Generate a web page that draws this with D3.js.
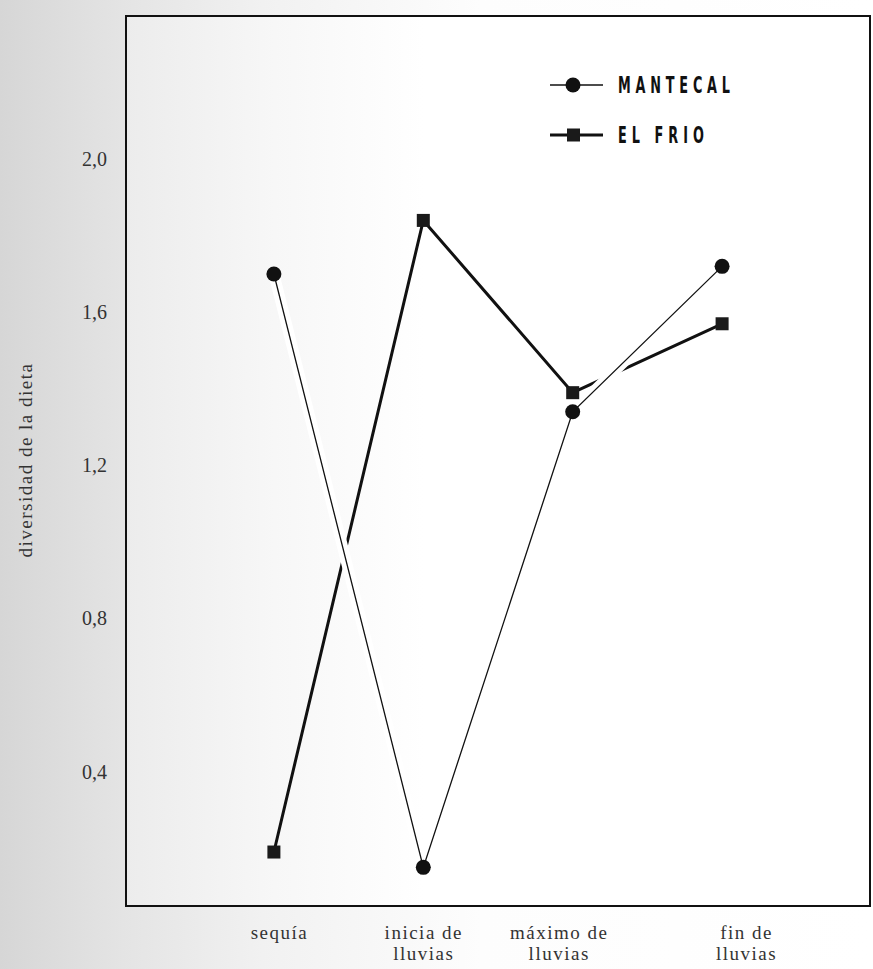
<!DOCTYPE html>
<html>
<head>
<meta charset="utf-8">
<script src="https://cdn.jsdelivr.net/npm/d3@7"></script>
<style>
  body { margin: 0; background: #e9e9e9; }
  svg { display: block; }
</style>
</head>
<body>
<svg id="chart"></svg>
<script>
// categories and values
const categories = ["sequía", "inicia de lluvias", "máximo de lluvias", "fin de lluvias"];
const categoryLines = [["sequía"], ["inicia de", "lluvias"], ["máximo de", "lluvias"], ["fin de", "lluvias"]];
const mantecal = [1.70, 0.15, 1.34, 1.72];
const elFrio = [0.19, 1.84, 1.39, 1.57];
const yTicks = [0.4, 0.8, 1.2, 1.6, 2.0];
const seriesNames = ["MANTECAL", "EL FRIO"];

const width = 873, height = 969;
const frame = { left: 126, right: 870, top: 16, bottom: 906 };
const labelShift = [5, 0, -14, 24];

const svg = d3.select("#chart").attr("width", width).attr("height", height);

// scanned-page look: grey on the left fading to white
const defs = svg.append("defs");
const bg = defs.append("linearGradient").attr("id", "bg");
bg.append("stop").attr("offset", "0%").attr("stop-color", "#d6d6d6");
bg.append("stop").attr("offset", "14%").attr("stop-color", "#e4e4e4");
bg.append("stop").attr("offset", "30%").attr("stop-color", "#f1f1f1");
bg.append("stop").attr("offset", "55%").attr("stop-color", "#fdfdfd");
bg.append("stop").attr("offset", "100%").attr("stop-color", "#ffffff");
const inner = defs.append("linearGradient").attr("id", "inner");
inner.append("stop").attr("offset", "0%").attr("stop-color", "#ececec");
inner.append("stop").attr("offset", "20%").attr("stop-color", "#f7f7f7");
inner.append("stop").attr("offset", "40%").attr("stop-color", "#ffffff");

svg.append("rect").attr("width", width).attr("height", height).attr("fill", "url(#bg)");
svg.append("rect")
  .attr("x", frame.left).attr("y", frame.top)
  .attr("width", frame.right - frame.left).attr("height", frame.bottom - frame.top)
  .attr("fill", "url(#inner)");

const x = d3.scalePoint().domain(categories).range([frame.left, frame.right]).padding(0.99);
const y = d3.scaleLinear().domain([0.049, 2.374]).range([frame.bottom, frame.top]);

// frame
svg.append("rect")
  .attr("x", frame.left).attr("y", frame.top)
  .attr("width", frame.right - frame.left).attr("height", frame.bottom - frame.top)
  .attr("fill", "none").attr("stroke", "#111").attr("stroke-width", 2);

// y axis labels
const yAxis = svg.append("g")
  .attr("transform", `translate(${frame.left},0)`)
  .call(d3.axisLeft(y).tickValues(yTicks).tickSize(0).tickPadding(19)
    .tickFormat(d => d3.format(".1f")(d).replace(".", ",")));
yAxis.select(".domain").remove();
yAxis.selectAll("text")
  .attr("font-family", "'Liberation Serif', 'DejaVu Serif', serif")
  .attr("font-size", 20).attr("fill", "#333");

// x axis labels, two lines
const xAxis = svg.append("g")
  .attr("transform", `translate(0,${frame.bottom})`)
  .call(d3.axisBottom(x).tickSize(0).tickFormat(""));
xAxis.select(".domain").remove();
xAxis.selectAll(".tick text")
  .attr("y", 0).attr("dy", null)
  .attr("font-family", "'Liberation Serif', 'DejaVu Serif', serif")
  .attr("font-size", 19).attr("fill", "#333")
  .attr("letter-spacing", 1.5)
  .each(function(d, i) {
    const t = d3.select(this).attr("x", labelShift[i]);
    categoryLines[i].forEach((line, k) => {
      t.append("tspan").attr("x", labelShift[i]).attr("y", 33 + k * 21).text(line);
    });
  });

// y axis title
svg.append("text")
  .attr("transform", "translate(32,460) rotate(-90)")
  .attr("text-anchor", "middle")
  .attr("font-family", "'Liberation Serif', 'DejaVu Serif', serif")
  .attr("font-size", 19).attr("letter-spacing", 1.5).attr("fill", "#333")
  .text("diversidad de la dieta");

const line = d3.line().x((d, i) => x(categories[i])).y(d => y(d));

// El Frio: thick line
svg.append("path").datum(elFrio)
  .attr("d", line).attr("fill", "none")
  .attr("stroke", "#111").attr("stroke-width", 3);

// Mantecal: thin line, with a white edge so the thick line breaks where they cross
svg.append("path").datum(mantecal)
  .attr("d", line).attr("fill", "none")
  .attr("stroke", "#fff").attr("stroke-width", 11);
svg.append("path").datum(mantecal)
  .attr("d", line).attr("fill", "none")
  .attr("stroke", "#111").attr("stroke-width", 1.3);

svg.selectAll(".sq").data(elFrio).join("rect")
  .attr("class", "sq")
  .attr("x", (d, i) => x(categories[i]) - 6.5).attr("y", d => y(d) - 6.5)
  .attr("width", 13).attr("height", 13).attr("fill", "#1a1a1a");

svg.selectAll(".dot").data(mantecal).join("circle")
  .attr("class", "dot")
  .attr("cx", (d, i) => x(categories[i])).attr("cy", d => y(d))
  .attr("r", 7.5).attr("fill", "#111");

// legend: tall narrow letters, widely spaced
const legend = svg.append("g");
seriesNames.forEach((name, i) => {
  const ly = 85 + i * 50;
  legend.append("line")
    .attr("x1", 550).attr("x2", 603).attr("y1", ly).attr("y2", ly)
    .attr("stroke", "#111").attr("stroke-width", i === 0 ? 1.5 : 3);
  if (i === 0) {
    legend.append("circle").attr("cx", 573).attr("cy", ly).attr("r", 7.5).attr("fill", "#111");
  } else {
    legend.append("rect").attr("x", 567).attr("y", ly - 6.5)
      .attr("width", 13).attr("height", 13).attr("fill", "#1a1a1a");
  }
  legend.append("g")
    .attr("transform", `translate(618,${ly + 8}) scale(0.62,1)`)
    .append("text")
    .attr("font-family", "'DejaVu Sans Condensed', 'Liberation Sans Narrow', 'Liberation Sans', sans-serif")
    .attr("font-size", 23).attr("font-weight", "bold").attr("fill", "#111")
    .attr("textLength", (i === 0 ? 112 : 86) / 0.62).attr("lengthAdjust", "spacing")
    .text(name);
});
</script>
</body>
</html>
